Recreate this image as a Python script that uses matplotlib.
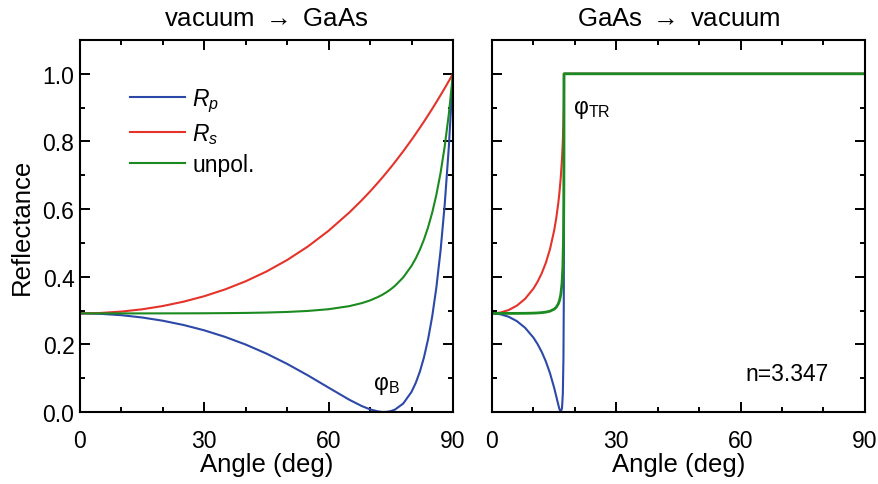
import matplotlib
matplotlib.use('Agg')
import matplotlib.pyplot as plt
from matplotlib.ticker import MultipleLocator

plt.rcParams['font.family'] = ['Liberation Sans', 'DejaVu Sans']
plt.rcParams['mathtext.fontset'] = 'custom'
plt.rcParams['mathtext.rm'] = 'Liberation Sans'
plt.rcParams['mathtext.it'] = 'Liberation Sans:italic'

# vacuum -> GaAs (angles in deg)
angle_in = [0, 5, 10, 15, 20, 25, 30, 35, 40, 45, 50, 55, 60, 65, 68, 70, 72, 73, 74,
            75, 76, 78, 80, 81, 82, 83, 84, 85, 86, 87, 88, 89, 90]
rp_in = [0.2915, 0.2902, 0.2862, 0.2794, 0.2698, 0.2572, 0.2414, 0.2221, 0.1993, 0.1726,
         0.1421, 0.1082, 0.0719, 0.0361, 0.0175, 0.0077, 0.0014, 0.0001, 0.0004,
         0.0025, 0.0070, 0.0249, 0.0594, 0.0853, 0.1186, 0.1612, 0.2150, 0.2829,
         0.3684, 0.4759, 0.6114, 0.7826, 1.0]
rs_in = [0.2915, 0.2928, 0.2969, 0.3036, 0.3134, 0.3262, 0.3424, 0.3624, 0.3866, 0.4154,
         0.4495, 0.4894, 0.5360, 0.5900, 0.6262, 0.6521, 0.6795, 0.6938, 0.7084,
         0.7234, 0.7388, 0.7709, 0.8046, 0.8222, 0.8401, 0.8585, 0.8773, 0.8966,
         0.9164, 0.9366, 0.9572, 0.9784, 1.0]
un_in = [0.2915, 0.2915, 0.2915, 0.2915, 0.2916, 0.2917, 0.2919, 0.2923, 0.2929, 0.2940,
         0.2958, 0.2988, 0.3039, 0.3130, 0.3219, 0.3299, 0.3405, 0.3469, 0.3544,
         0.3630, 0.3729, 0.3979, 0.4320, 0.4537, 0.4794, 0.5098, 0.5462, 0.5898,
         0.6424, 0.7062, 0.7843, 0.8805, 1.0]

# GaAs -> vacuum
angle_out = [0, 2, 4, 6, 8, 10, 11, 12, 13, 14, 15, 15.5, 16, 16.3, 16.6, 16.9, 17.1,
             17.25, 17.33, 17.37, 17.38, 90]
rp_out = [0.2915, 0.2891, 0.2817, 0.2687, 0.2489, 0.2199, 0.2008, 0.1777, 0.1495, 0.1147,
          0.0717, 0.0470, 0.0215, 0.0079, 0.0001, 0.0113, 0.0547, 0.1607, 0.3278,
          0.5721, 1.0, 1.0]
rs_out = [0.2915, 0.2939, 0.3013, 0.3144, 0.3347, 0.3648, 0.3850, 0.4099, 0.4411, 0.4815,
          0.5363, 0.5723, 0.6175, 0.6515, 0.6935, 0.7491, 0.8010, 0.8583, 0.9075,
          0.9517, 1.0, 1.0]
un_out = [0.2915, 0.2915, 0.2915, 0.2916, 0.2918, 0.2923, 0.2929, 0.2938, 0.2953, 0.2981,
          0.3040, 0.3096, 0.3195, 0.3297, 0.3468, 0.3802, 0.4278, 0.5095, 0.6176,
          0.7619, 1.0, 1.0]

c_blue = '#2c48a8'
c_red = '#e5332a'
c_green = '#1b8a1f'
fs_big = 18.5
fs = 16.5

fig = plt.figure(figsize=(8.79, 4.85), dpi=100)
ax1 = fig.add_axes([0.0910, 0.1485, 0.4243, 0.767])
ax2 = fig.add_axes([0.5597, 0.1485, 0.4243, 0.767])

ax1.plot(angle_in, rp_in, color=c_blue, lw=1.5, label='$R_p$')
ax1.plot(angle_in, rs_in, color=c_red, lw=1.5, label='$R_s$')
ax1.plot(angle_in, un_in, color=c_green, lw=1.5, label='unpol.')

ax2.plot(angle_out, rp_out, color=c_blue, lw=1.5)
ax2.plot(angle_out, rs_out, color=c_red, lw=1.5)
ax2.plot(angle_out, un_out, color=c_green, lw=2.0)

for ax in (ax1, ax2):
    ax.set_xlim(0, 90)
    ax.set_ylim(0, 1.1)
    ax.xaxis.set_major_locator(MultipleLocator(30))
    ax.xaxis.set_minor_locator(MultipleLocator(10))
    ax.yaxis.set_major_locator(MultipleLocator(0.2))
    ax.yaxis.set_minor_locator(MultipleLocator(0.1))
    ax.tick_params(which='both', direction='in', top=True, right=True, width=1.4,
                   labelsize=fs)
    ax.tick_params(axis='x', pad=12)
    ax.tick_params(axis='y', pad=4)
    ax.tick_params(which='major', length=7)
    ax.tick_params(which='minor', length=3.5)
    for sp in ax.spines.values():
        sp.set_linewidth(1.5)
    ax.set_xlabel('Angle (deg)', fontsize=fs_big, labelpad=0)

ax1.yaxis.set_major_formatter(plt.FormatStrFormatter('%.1f'))
ax1.set_ylabel('Reflectance', fontsize=fs_big, labelpad=6)
ax2.tick_params(labelleft=False)

ax1.set_title(r'vacuum $\rightarrow$ GaAs', fontsize=fs_big, pad=11)
ax2.set_title(r'GaAs $\rightarrow$ vacuum', fontsize=fs_big, pad=11)

ax1.legend(loc='upper left', bbox_to_anchor=(0.08, 0.93), frameon=False, fontsize=fs,
           handlelength=2.4, handletextpad=0.3, labelspacing=0.3)

ax1.text(70.6, 0.068, '$\\mathrm{\u03c6_B}$', fontsize=fs)
ax2.text(19.6, 0.885, '$\\mathrm{\u03c6_{TR}}$', fontsize=fs)
ax2.text(81.2, 0.095, 'n=3.347', fontsize=fs, ha='right')

fig.savefig('out.png', dpi=100)
